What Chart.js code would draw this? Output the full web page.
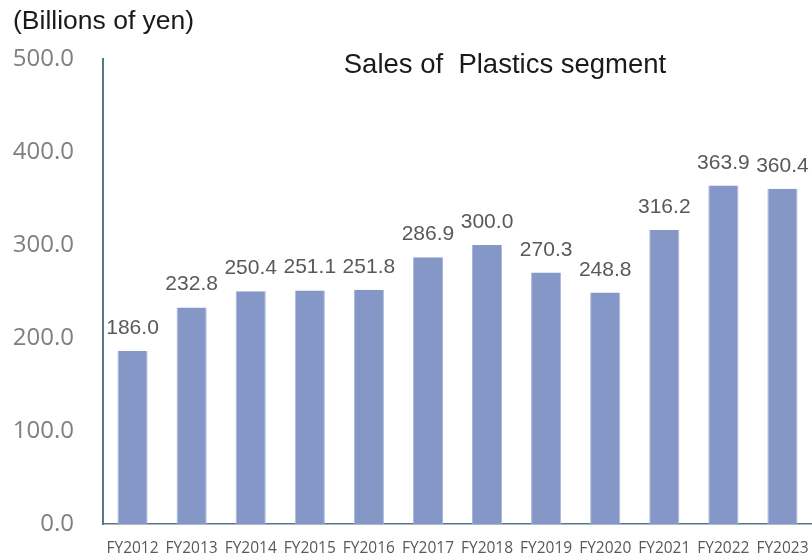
<!DOCTYPE html>
<html>
<head>
<meta charset="utf-8">
<script src="https://cdn.jsdelivr.net/npm/chart.js@4.4.1/dist/chart.umd.min.js"></script>
<style>
  html, body { margin: 0; padding: 0; background: #fff; }
  #wrap { width: 812px; height: 557px; position: relative; }
</style>
</head>
<body>
<div id="wrap"><canvas id="salesChart"></canvas></div>
<script>
// Sales of Plastics segment (billions of yen)
const years = ["FY2012", "FY2013", "FY2014", "FY2015", "FY2016", "FY2017",
  "FY2018", "FY2019", "FY2020", "FY2021", "FY2022", "FY2023"];
const sales = [186.0, 232.8, 250.4, 251.1, 251.8, 286.9,
  300.0, 270.3, 248.8, 316.2, 363.9, 360.4];
const yTicks = [0, 100, 200, 300, 400, 500];

const chartTitle = "Sales of  Plastics segment";
const unitLabel = "(Billions of yen)";
const axisColor = "#52788a";

// draws the value labels and the two header texts
const labelPlugin = {
  id: "labels",
  afterDatasetsDraw(chart) {
    const ctx = chart.ctx;
    ctx.save();
    ctx.font = "21px 'Liberation Sans', Arial";
    ctx.textAlign = "center";
    ctx.textBaseline = "alphabetic";
    ctx.fillStyle = "#595959";
    chart.getDatasetMeta(0).data.forEach((bar, i) => {
      ctx.fillText(sales[i].toFixed(1), bar.x, bar.y - 17);
    });

    ctx.fillStyle = "#1a1a1a";
    ctx.font = "27.5px 'Liberation Sans', Arial";
    ctx.fillText(chartTitle, 505, 73);

    ctx.textAlign = "left";
    ctx.font = "26.5px 'Liberation Sans', Arial";
    ctx.fillText(unitLabel, 13, 29);
    ctx.restore();
  },
};

new Chart(document.getElementById("salesChart"), {
  type: "bar",
  data: {
    labels: years,
    datasets: [
      {
        data: sales,
        backgroundColor: "#8497c6",
        borderColor: "#a9b6d9",
        borderWidth: { left: 1, right: 1, top: 0, bottom: 0 },
        barPercentage: 0.51,
        categoryPercentage: 1.0,
      },
    ],
  },
  options: {
    responsive: true,
    maintainAspectRatio: false,
    animation: false,
    layout: { padding: { top: 59, right: 0, left: 0, bottom: 0 } },
    plugins: {
      legend: { display: false },
      title: { display: false },
      tooltip: { enabled: false },
    },
    scales: {
      x: {
        grid: { display: false, drawTicks: false },
        border: { display: true, color: axisColor, width: 1.5 },
        ticks: {
          autoSkip: false,
          maxRotation: 0,
          minRotation: 0,
          padding: 15,
          color: "#595959",
          font: { family: "'Open Sans', sans-serif", size: 15.5 },
        },
        afterFit(scale) {
          scale.height = 33;
          scale.paddingLeft = 0;
          scale.paddingRight = 0;
        },
      },
      y: {
        min: 0,
        max: 500,
        afterBuildTicks(scale) {
          scale.ticks = yTicks.map((v) => ({ value: v }));
        },
        grid: { display: false, drawTicks: false },
        border: { display: true, color: axisColor, width: 2 },
        ticks: {
          padding: 29,
          color: "#7f7f7f",
          font: { family: "'Open Sans', sans-serif", size: 24 },
          callback: (v) => Number(v).toFixed(1),
        },
        afterFit(scale) {
          scale.width = 103;
          scale.paddingTop = 0;
          scale.paddingBottom = 0;
        },
      },
    },
  },
  plugins: [labelPlugin],
});
</script>
</body>
</html>
